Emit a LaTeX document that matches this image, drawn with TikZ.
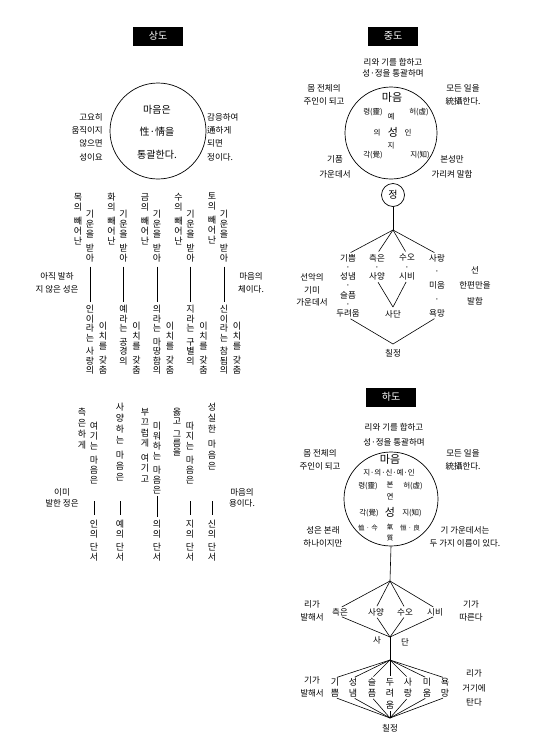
\documentclass[tikz,border=0pt]{standalone}
\usepackage{fontspec}
\setmainfont{Noto Sans CJK KR}
\ExplSyntaxOn
\NewDocumentCommand \vt { O{10pt} m }
  {
    \vbox
      {
        \skip_set:Nn \baselineskip {#1}
        \dim_set:Nn \lineskiplimit {-100pt}
        \tl_map_inline:nn {#2}
          {
            \tl_if_eq:nnTF {##1} {/}
              { \kern 4pt \relax }
              { \hbox_to_wd:nn {1em} { \hss ##1 \hss } }
          }
      }
  }
\ExplSyntaxOff
\tikzset{
  lbl/.style={inner sep=0pt, align=center, font=\fontsize{8.5}{13}\selectfont},
  sm/.style={inner sep=0pt, font=\fontsize{7.5}{9}\selectfont},
  mid/.style={inner sep=0pt, font=\fontsize{11}{11}\selectfont},
  vc/.style={inner sep=0pt, anchor=north, font=\fontsize{9}{10}\selectfont},
  stk/.style={inner sep=0pt, anchor=north, align=center},
  hdr/.style={fill=black, text=white, inner sep=0pt, minimum width=50pt, minimum height=19pt, font=\fontsize{10}{10}\selectfont},
  ln/.style={line width=0.6pt},
  ring/.style={draw, circle, inner sep=0pt, line width=0.7pt},
}
\begin{document}
\begin{tikzpicture}[x=1pt, y=-1pt]
\useasboundingbox (0,0) rectangle (558,756);
\fill[white] (0,0) rectangle (558,756);

% ================= 상도 =================
\node[hdr] (h1) at (158,36) {상도};
\node[ring, minimum size=96pt] (sc) at (158,131) {};
\node[lbl, font=\fontsize{10}{22.5}\selectfont] (sct) at (157,132) {마음은\\性·情을\\통괄한다.};
\node[lbl, align=right, anchor=east, font=\fontsize{8.5}{13.3}\selectfont] (sl) at (103,137) {고요히\\움직이지\\않으면\\성이요};
\node[lbl, align=left, anchor=west, font=\fontsize{8.5}{13.3}\selectfont] (sr) at (207,137) {감응하여\\通하게\\되면\\정이다.};

% upper columns
\node[vc] (tA1) at (78,193) {\vt{목의/빼어난}};
\node[vc] (tA2) at (90,210) {\vt{기운을/받아}};
\node[vc] (tA3) at (90,305) {\vt[9.5pt]{인이라는/사랑의}};
\node[vc] (tA4) at (103,322) {\vt{이치를/갖춤}};
\node[vc] (tB1) at (111.5,193) {\vt{화의/빼어난}};
\node[vc] (tB2) at (123.5,210) {\vt{기운을/받아}};
\node[vc] (tB3) at (123.5,305) {\vt[9.5pt]{예라는/공경의}};
\node[vc] (tB4) at (136.5,322) {\vt{이치를/갖춤}};
\node[vc] (tC1) at (145,193) {\vt{금의/빼어난}};
\node[vc] (tC2) at (157,210) {\vt{기운을/받아}};
\node[vc] (tC3) at (157,305) {\vt[9.5pt]{의라는/마땅함의}};
\node[vc] (tC4) at (170,322) {\vt{이치를/갖춤}};
\node[vc] (tD1) at (178.5,193) {\vt{수의/빼어난}};
\node[vc] (tD2) at (190.5,210) {\vt{기운을/받아}};
\node[vc] (tD3) at (190.5,305) {\vt[9.5pt]{지라는/구별의}};
\node[vc] (tD4) at (203.5,322) {\vt{이치를/갖춤}};
\node[vc] (tE1) at (212,193) {\vt{토의/빼어난}};
\node[vc] (tE2) at (224,210) {\vt{기운을/받아}};
\node[vc] (tE3) at (224,305) {\vt[9.5pt]{신이라는/참됨의}};
\node[vc] (tE4) at (237,322) {\vt{이치를/갖춤}};
\foreach \c in {A,B,C,D,E}
  \draw[ln, shorten <=4pt, shorten >=3pt] (t\c2.south) -- (t\c3.north);
\node[lbl] (ajik) at (57,283) {아직 발하\\지 않은 성은};
\node[lbl] (che) at (251,283) {마음의\\체이다.};

% lower columns
\node[vc] (bA1) at (82,408) {\vt[11pt]{측은하게}};
\node[vc] (bA2) at (94,422) {\vt{여기는/마음은}};
\node[vc] (bA3) at (94,520) {\vt[9.5pt]{인의/단서}};
\node[vc] (bB2) at (120,403) {\vt[11pt]{사양하는/마음은}};
\node[vc] (bB3) at (120,520) {\vt[9.5pt]{예의/단서}};
\node[vc] (bC1) at (145,408) {\vt[10.5pt]{부끄럽게/여기고}};
\node[vc] (bC2) at (157,422) {\vt{미워하는/마음은}};
\node[vc] (bC3) at (157,520) {\vt[9.5pt]{의의/단서}};
\node[vc] (bD1) at (177,408) {\vt[9pt]{옳고/그름을}};
\node[vc] (bD2) at (190,422) {\vt{따지는/마음은}};
\node[vc] (bD3) at (190,520) {\vt[9.5pt]{지의/단서}};
\node[vc] (bE2) at (212,403) {\vt[11pt]{성실한/마음은}};
\node[vc] (bE3) at (212,520) {\vt[9.5pt]{신의/단서}};
\draw[ln, shorten <=17pt, shorten >=5pt] (bA2.south) -- (bA3.north);
\draw[ln, shorten <=20pt, shorten >=5pt] (bB2.south) -- (bB3.north);
\draw[ln, shorten <=1.5pt, shorten >=3pt] (bC2.south) -- (bC3.north);
\draw[ln, shorten <=17pt, shorten >=5pt] (bD2.south) -- (bD3.north);
\draw[ln, shorten <=31pt, shorten >=5pt] (bE2.south) -- (bE3.north);
\node[lbl, font=\fontsize{8.5}{11.5}\selectfont] (imi) at (62,498) {이미\\발한 정은};
\node[lbl, font=\fontsize{8.5}{11.5}\selectfont] (yong) at (242,498) {마음의\\용이다.};

% ================= 중도 =================
\node[hdr] (h2) at (393,36) {중도};
\node[lbl, font=\fontsize{8.5}{11.5}\selectfont] (m1) at (393,68) {리와 기를 합하고\\성·정을 통괄하며};
\node[lbl] (m2) at (324,95) {몸 전체의\\주인이 되고};
\node[lbl] (m3) at (463,95) {모든 일을\\統攝한다.};
\node[ring, minimum size=92pt] (mc) at (391,133) {};
\node[mid] (mma) at (392,97) {마음};
\node[sm] (mryeong) at (373,112) {령(靈)};
\node[sm] (mheo) at (419,112) {허(虛)};
\node[sm] (mye) at (391,117) {예};
\node[sm] (mui) at (377,133) {의};
\node[mid] (mseong) at (393,132) {성};
\node[sm] (min) at (408,133) {인};
\node[sm] (mji) at (391,146) {지};
\node[sm] (mgak) at (373,155) {각(覺)};
\node[sm] (mji2) at (420,155) {지(知)};
\node[lbl, font=\fontsize{8.5}{14.5}\selectfont] (mgipum) at (335,167) {기품\\가운데서};
\node[lbl, font=\fontsize{8.5}{14.5}\selectfont] (mbon) at (452,167) {본성만\\가리켜 말함};
\node[ring, minimum size=23pt, font=\fontsize{10}{10}\selectfont] (jeong) at (393,195) {정};
\coordinate (j1) at (393,230);
\draw[ln] (jeong.south) -- (j1);
\node[stk, font=\fontsize{8.5}{9.2}\selectfont] (cgi) at (348,254) {기쁨\\·\\성냄\\·\\슬픔\\·\\두려움};
\node[stk, font=\fontsize{8.5}{9.2}\selectfont] (ccheug) at (377,254) {측은\\·\\사양};
\node[stk, font=\fontsize{8.5}{9.2}\selectfont] (csuo) at (407,254) {수오\\·\\시비};
\node[stk, font=\fontsize{8.5}{13.75}\selectfont] (csarang) at (437,254) {사랑\\·\\미움\\·\\욕망};
\foreach \n in {cgi,ccheug,csuo,csarang}
  \draw[ln, shorten >=3pt] (j1) -- (\n.north);
\coordinate (j2) at (393,307);
\node[lbl] (csadan) at (393,314) {사단};
\draw[ln, shorten <=2pt] (ccheug.south) -- (j2);
\draw[ln, shorten <=2pt] (csuo.south) -- (j2);
\coordinate (j3) at (393,344);
\node[lbl] (cchil) at (393,353) {칠정};
\draw[ln, shorten <=3pt] (cgi.south) -- (j3);
\draw[ln, shorten <=3pt] (csarang.south) -- (j3);
\node[lbl, font=\fontsize{8.5}{12.5}\selectfont] (mseonak) at (312,290) {선악의\\기미\\가운데서};
\node[lbl, font=\fontsize{8.5}{15.5}\selectfont] (mseon) at (475,285.5) {선\\한편만을\\발함};

% ================= 하도 =================
\node[hdr] (h3) at (391,397) {하도};
\node[lbl, font=\fontsize{8.5}{15}\selectfont] (ha) at (394,434.5) {리와 기를 합하고\\성·정을 통괄하며};
\node[lbl] (hb) at (320,460) {몸 전체의\\주인이 되고};
\node[lbl] (hcc) at (463,460) {모든 일을\\統攝한다.};
\node[ring, minimum size=94pt] (hc) at (391,499) {};
\node[mid] (hma) at (390,459) {마음};
\node[sm] (hfive) at (389,473) {지·의·신·예·인};
\node[sm] (hryeong) at (368,486) {령(靈)};
\node[sm] (hbon) at (390,485) {본};
\node[sm] (hheo) at (413,486) {허(虛)};
\node[sm] (hyeon) at (390,497) {연};
\node[sm] (hgak) at (369,513) {각(覺)};
\node[mid] (hseong) at (390,512) {성};
\node[sm] (hji) at (412,513) {지(知)};
\node[sm, font=\fontsize{6.5}{7}\selectfont] (hl) at (368,528) {恤 · 今};
\node[sm, font=\fontsize{6.5}{7}\selectfont] (hr) at (410,528) {恒 · 良};
\node[sm, font=\fontsize{6.5}{7}\selectfont] (hgi) at (390,527) {氣};
\node[sm, font=\fontsize{6.5}{7}\selectfont] (hjil) at (390,538) {質};
\node[lbl] (hd) at (323,537) {성은 본래\\하나이지만};
\node[lbl] (he) at (465,537) {기 가운데서는\\두 가지 이름이 있다.};
\coordinate (v1) at (390,581);
\draw[ln] (hc.south) -- (v1);
\node[lbl] (hcheug) at (340,612) {측은};
\node[lbl] (hsayang) at (376,612) {사양};
\node[lbl] (hsuo) at (405,612) {수오};
\node[lbl] (hsibi) at (435,612) {시비};
\coordinate (v1b) at (390,637);
\coordinate (v2) at (390,660);
\foreach \n in {hcheug,hsayang,hsuo,hsibi} {
  \draw[ln, shorten >=2pt] (v1) -- (\n.north);
  \draw[ln, shorten <=2pt] (\n.south) -- (v1b);
}
\draw[ln] (v1b) -- (v2);
\node[lbl] (hsa) at (377,640) {사};
\node[lbl] (hdan) at (405,642) {단};
\node[lbl] (hrig) at (312,611) {리가\\발해서};
\node[lbl] (hgid) at (471,611) {기가\\따른다};
\node[vc] (f1) at (335,678) {\vt[11pt]{기쁨}};
\node[vc] (f2) at (353,678) {\vt[11pt]{성냄}};
\node[vc] (f3) at (372,678) {\vt[11pt]{슬픔}};
\node[vc] (f4) at (390,678) {\vt[11.5pt]{두려움}};
\node[vc] (f5) at (408,678) {\vt[11pt]{사랑}};
\node[vc] (f6) at (427,678) {\vt[11pt]{미움}};
\node[vc] (f7) at (445,678) {\vt[11pt]{욕망}};
\coordinate (v3) at (390,718);
\foreach \n in {f1,f2,f3,f4,f5,f6,f7} {
  \draw[ln, shorten >=2pt] (v2) -- (\n.north);
  \draw[ln, shorten <=2pt] (\n.south) -- (v3);
}
\node[lbl] (hchil) at (390,728) {칠정};
\node[lbl] (hgib) at (312,687) {기가\\발해서};
\node[lbl, font=\fontsize{8.5}{14.5}\selectfont] (hrit) at (474,688) {리가\\거기에\\탄다};
\end{tikzpicture}
\end{document}
